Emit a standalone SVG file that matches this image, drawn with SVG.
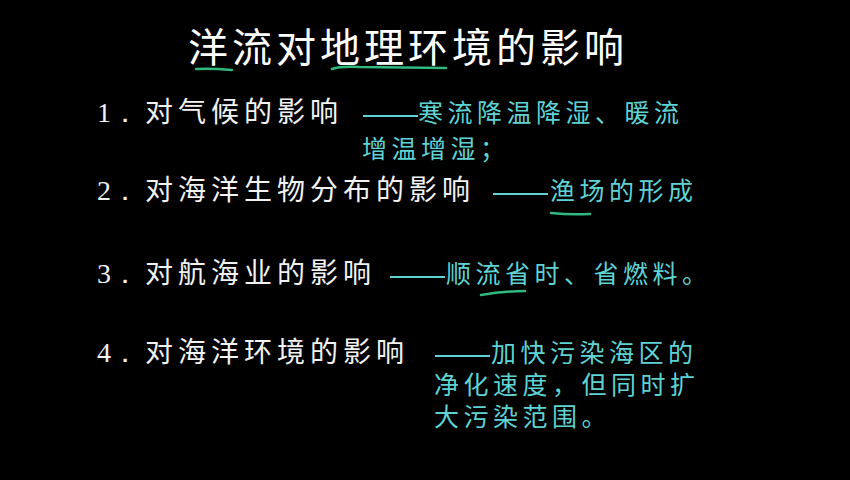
<svg xmlns="http://www.w3.org/2000/svg" width="850" height="480" viewBox="0 0 850 480">
<style>
text{font-family:"Noto Sans CJK SC","Noto Sans",sans-serif}
.t{fill:#ffffff;font-size:40px;letter-spacing:4px}
.w{fill:#f2f2f2;font-size:28px;letter-spacing:5px}
.n{fill:#f2f2f2;font-size:28px;font-family:"Liberation Serif",serif}
.c{fill:#5fd3d3;font-size:25px;letter-spacing:4.5px}
.u{stroke:#2fb880;stroke-width:2.5;fill:none;stroke-linecap:round}
.d{stroke:#5fd3d3;stroke-width:2}
</style>
<rect width="850" height="480" fill="#000"/>
<g id="title"><text class="t" x="188" y="62">洋流对地理环境的影响</text>
<path class="u" d="M196 69 Q210 68 232 70"/><path class="u" d="M332 69 Q340 66 360 67 L446 68"/></g>
<g id="item1"><text class="n" x="97" y="122">1．</text><text class="w" x="145" y="122">对气候的影响</text>
<line class="d" x1="363" y1="116" x2="418" y2="116"/>
<text class="c" x="418" y="122">寒流降温降湿、暖流</text><text class="c" x="362" y="158">增温增湿；</text></g>
<g id="item2"><text class="n" x="97" y="200">2．</text><text class="w" x="145" y="200">对海洋生物分布的影响</text>
<line class="d" x1="493" y1="194" x2="548" y2="194"/>
<text class="c" x="550" y="200">渔场的形成</text><path class="u" d="M551 213 Q570 215 590 214"/></g>
<g id="item3"><text class="n" x="97" y="283">3．</text><text class="w" x="145" y="283">对航海业的影响</text>
<line class="d" x1="390" y1="277" x2="445" y2="277"/>
<text class="c" x="446" y="283">顺流省时、省燃料。</text><path class="u" d="M481 295 Q505 291 525 291"/></g>
<g id="item4"><text class="n" x="97" y="362">4．</text><text class="w" x="145" y="362">对海洋环境的影响</text>
<line class="d" x1="435" y1="356" x2="490" y2="356"/>
<text class="c" x="491" y="362">加快污染海区的</text><text class="c" x="434" y="394">净化速度，但同时扩</text><text class="c" x="434" y="426">大污染范围。</text></g>
</svg>
